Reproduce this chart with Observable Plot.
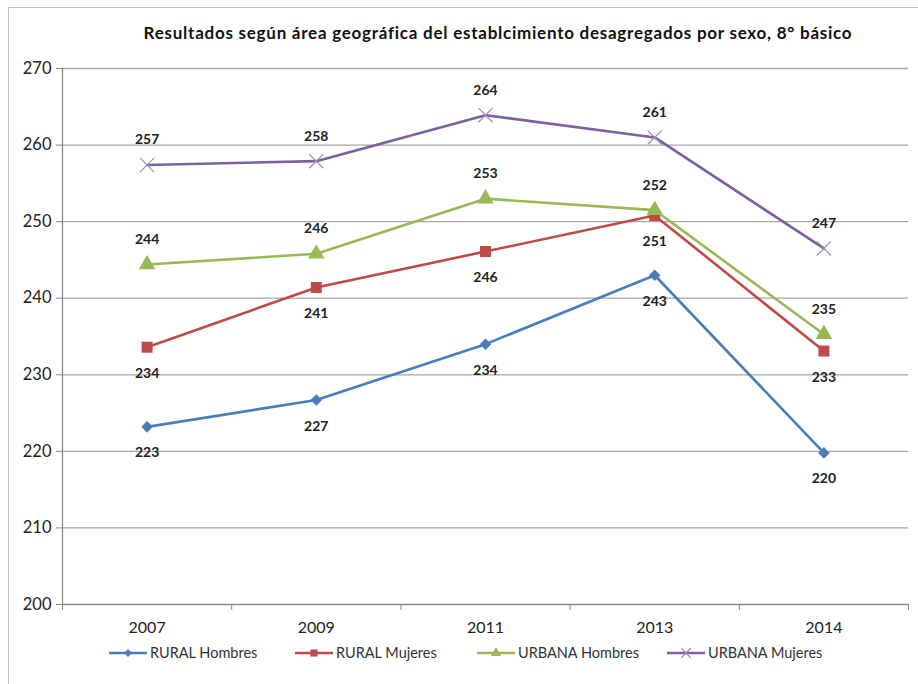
<!DOCTYPE html>
<html>
<head>
<meta charset="utf-8">
<script src="https://cdn.jsdelivr.net/npm/d3@7"></script>
<script src="https://cdn.jsdelivr.net/npm/@observablehq/plot@0.6"></script>
<style>
  html, body { margin: 0; padding: 0; background: #fff; overflow: hidden; width: 918px; height: 684px; }
  #frame { position: absolute; left: 8px; top: 7px; width: 940px; height: 700px; border: 1.5px solid #c4c4c4; box-sizing: border-box; }
  #chart { position: absolute; left: 0; top: 0; width: 918px; font-family: Lato, "Open Sans", sans-serif; }
  #title { height: 50px; position: relative; }
  #title span { position: absolute; left: 0; width: 996px; top: 22px; text-align: center; font-weight: bold; font-size: 17px; letter-spacing: 0.75px; color: #111; white-space: nowrap; }
  #legend { position: absolute; left: 0; top: 644px; width: 918px; height: 20px; font-size: 14.5px; color: #333; }
  .item { position: absolute; top: 0; display: flex; align-items: center; white-space: nowrap; }
  .item svg { margin-right: 2px; }
</style>
</head>
<body>
<div id="frame"></div>
<div id="chart">
  <div id="title"><span>Resultados según área geográfica del establcimiento desagregados por sexo, 8° básico</span></div>
  <div id="plot"></div>
  <div id="legend"></div>
</div>
<script>
const years = ["2007", "2009", "2011", "2013", "2014"];
const ruralHombres = [223.2, 226.7, 234.0, 243.0, 219.8];
const ruralMujeres = [233.6, 241.4, 246.1, 250.8, 233.1];
const urbanaHombres = [244.4, 245.8, 253.0, 251.5, 235.3];
const urbanaMujeres = [257.4, 257.9, 263.9, 261.0, 246.5];
const seriesNames = ["RURAL Hombres", "RURAL Mujeres", "URBANA Hombres", "URBANA Mujeres"];
const yTicks = [200, 210, 220, 230, 240, 250, 260, 270];

const colors = ["#4A7EBB", "#BE4B48", "#98B954", "#7D60A0"];
const symbols = ["diamond2", "square", "triangle", "times"];
const markerR = [5.2, 6.2, 6.2, 6.5];
const labelDy = [26, 26, -25, -25];
const legendLeft = [108, 294, 476, 666];

const seriesValues = [ruralHombres, ruralMujeres, urbanaHombres, urbanaMujeres];
const data = [];
seriesValues.forEach((vals, s) => {
  vals.forEach((v, i) => data.push({ s, series: seriesNames[s], x: i + 0.5, year: years[i], value: v }));
});

const marks = [
  Plot.gridY(yTicks.filter(d => d > 200), { stroke: "#a6a6a6", strokeOpacity: 1, strokeWidth: 1.3 }),
  Plot.ruleX([0], { stroke: "#8a8a8a", strokeWidth: 1.3 }),
  Plot.ruleY([200], { stroke: "#8a8a8a", strokeWidth: 1.3 }),
  Plot.axisY({ ticks: yTicks, tickSize: 6, tickPadding: 5, fontSize: 16.5, stroke: "#8a8a8a", color: "#222", label: null }),
  Plot.axisX({ ticks: [0, 1, 2, 3, 4, 5], tickSize: 6, tickFormat: () => "", stroke: "#8a8a8a", label: null }),
  Plot.axisX({ ticks: years.map((d, i) => i + 0.5), tickSize: 0, tickPadding: 17, fontSize: 16, color: "#222", tickFormat: d => years[Math.round(d - 0.5)], label: null })
];

seriesValues.forEach((vals, s) => {
  const rows = data.filter(d => d.s === s);
  marks.push(Plot.line(rows, { x: "x", y: "value", stroke: colors[s], strokeWidth: 2.6 }));
  if (symbols[s] === "times") {
    marks.push(Plot.dot(rows, { x: "x", y: "value", symbol: "times", r: markerR[s], stroke: "#9d8cbb", strokeWidth: 1.2, fill: "none" }));
  } else {
    marks.push(Plot.dot(rows, { x: "x", y: "value", symbol: symbols[s], r: markerR[s], fill: colors[s], stroke: "none" }));
  }
  marks.push(Plot.text(rows, { x: "x", y: "value", text: d => String(Math.round(d.value)), dy: labelDy[s], fontSize: 14, fontWeight: "bold", fill: "#222" }));
});

const chart = Plot.plot({
  width: 918,
  height: 590,
  marginTop: 18,
  marginBottom: 36,
  marginLeft: 62,
  marginRight: 10,
  style: { fontFamily: "Lato, 'Open Sans', sans-serif", background: "transparent" },
  x: { domain: [0, 5], axis: null },
  y: { domain: [200, 270], axis: null },
  marks
});
document.getElementById("plot").appendChild(chart);

// Legend
const legend = d3.select("#legend");
const symMap = { diamond2: d3.symbolDiamond2, square: d3.symbolSquare, triangle: d3.symbolTriangle, times: d3.symbolTimes };
seriesNames.forEach((name, s) => {
  const item = legend.append("div").attr("class", "item").style("left", legendLeft[s] + "px");
  const svg = item.append("svg").attr("width", 40).attr("height", 16);
  svg.append("line").attr("x1", 1).attr("x2", 39).attr("y1", 8).attr("y2", 8).attr("stroke", colors[s]).attr("stroke-width", 2.6);
  const sz = { diamond2: 40, square: 50, triangle: 45, times: 60 }[symbols[s]];
  const p = svg.append("path").attr("transform", "translate(20,8)").attr("d", d3.symbol(symMap[symbols[s]], sz)());
  if (symbols[s] === "times") p.attr("fill", "none").attr("stroke", "#9d8cbb").attr("stroke-width", 1.2);
  else p.attr("fill", colors[s]);
  item.append("span").text(name);
});
</script>
</body>
</html>
